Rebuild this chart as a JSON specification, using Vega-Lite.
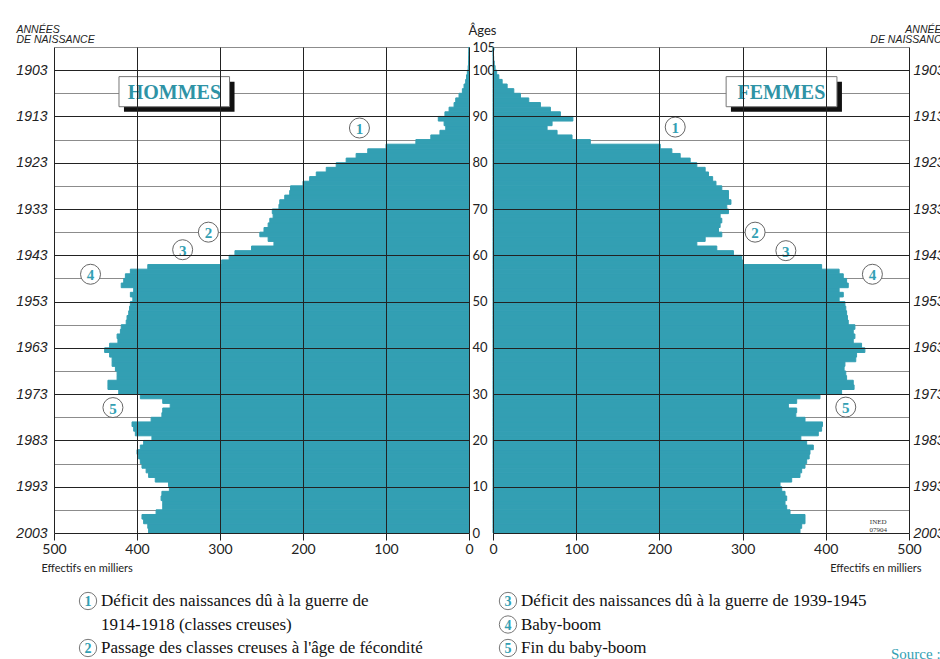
{
  "$schema": "https://vega.github.io/schema/vega-lite/v6.json",
  "background": "white",
  "padding": {"left": 15, "top": 24, "right": 0, "bottom": 0},
  "config": {"view": {"stroke": null}, "font": "Lato"},
  "datasets": {
    "pop": [
      {"age":0,"age2":1,"h":386,"f":369},{"age":1,"age2":2,"h":387,"f":371},{"age":2,"age2":3,"h":392,"f":375},{"age":3,"age2":4,"h":394,"f":375},{"age":4,"age2":5,"h":377,"f":357},
      {"age":5,"age2":6,"h":369,"f":353},{"age":6,"age2":7,"h":369,"f":351},{"age":7,"age2":8,"h":371,"f":353},{"age":8,"age2":9,"h":370,"f":351},{"age":9,"age2":10,"h":361,"f":347},
      {"age":10,"age2":11,"h":362,"f":345},{"age":11,"age2":12,"h":378,"f":359},{"age":12,"age2":13,"h":386,"f":369},{"age":13,"age2":14,"h":389,"f":371},{"age":14,"age2":15,"h":394,"f":375},
      {"age":15,"age2":16,"h":396,"f":377},{"age":16,"age2":17,"h":398,"f":380},{"age":17,"age2":18,"h":400,"f":381},{"age":18,"age2":19,"h":396,"f":385},{"age":19,"age2":20,"h":392,"f":377},
      {"age":20,"age2":21,"h":382,"f":370},{"age":21,"age2":22,"h":402,"f":391},{"age":22,"age2":23,"h":404,"f":395},{"age":23,"age2":24,"h":406,"f":396},{"age":24,"age2":25,"h":383,"f":375},
      {"age":25,"age2":26,"h":370,"f":364},{"age":26,"age2":27,"h":369,"f":365},{"age":27,"age2":28,"h":360,"f":355},{"age":28,"age2":29,"h":369,"f":365},{"age":29,"age2":30,"h":396,"f":393},
      {"age":30,"age2":31,"h":422,"f":419},{"age":31,"age2":32,"h":435,"f":434},{"age":32,"age2":33,"h":435,"f":433},{"age":33,"age2":34,"h":424,"f":425},{"age":34,"age2":35,"h":424,"f":424},
      {"age":35,"age2":36,"h":426,"f":422},{"age":36,"age2":37,"h":430,"f":423},{"age":37,"age2":38,"h":430,"f":436},{"age":38,"age2":39,"h":433,"f":437},{"age":39,"age2":40,"h":439,"f":447},
      {"age":40,"age2":41,"h":433,"f":443},{"age":41,"age2":42,"h":423,"f":433},{"age":42,"age2":43,"h":424,"f":435},{"age":43,"age2":44,"h":420,"f":433},{"age":44,"age2":45,"h":419,"f":435},
      {"age":45,"age2":46,"h":413,"f":427},{"age":46,"age2":47,"h":412,"f":426},{"age":47,"age2":48,"h":410,"f":425},{"age":48,"age2":49,"h":409,"f":424},{"age":49,"age2":50,"h":408,"f":423},
      {"age":50,"age2":51,"h":405,"f":416},{"age":51,"age2":52,"h":408,"f":421},{"age":52,"age2":53,"h":404,"f":416},{"age":53,"age2":54,"h":419,"f":427},{"age":54,"age2":55,"h":416,"f":425},
      {"age":55,"age2":56,"h":414,"f":421},{"age":56,"age2":57,"h":408,"f":416},{"age":57,"age2":58,"h":387,"f":395},{"age":58,"age2":59,"h":298,"f":300},{"age":59,"age2":60,"h":289,"f":299},
      {"age":60,"age2":61,"h":282,"f":289},{"age":61,"age2":62,"h":262,"f":269},{"age":62,"age2":63,"h":235,"f":245},{"age":63,"age2":64,"h":242,"f":255},{"age":64,"age2":65,"h":252,"f":275},
      {"age":65,"age2":66,"h":247,"f":271},{"age":66,"age2":67,"h":242,"f":273},{"age":67,"age2":68,"h":240,"f":275},{"age":68,"age2":69,"h":236,"f":273},{"age":69,"age2":70,"h":237,"f":283},
      {"age":70,"age2":71,"h":229,"f":281},{"age":71,"age2":72,"h":228,"f":286},{"age":72,"age2":73,"h":222,"f":283},{"age":73,"age2":74,"h":216,"f":283},{"age":74,"age2":75,"h":215,"f":275},
      {"age":75,"age2":76,"h":200,"f":268},{"age":76,"age2":77,"h":192,"f":264},{"age":77,"age2":78,"h":184,"f":259},{"age":78,"age2":79,"h":172,"f":255},{"age":79,"age2":80,"h":160,"f":245},
      {"age":80,"age2":81,"h":148,"f":237},{"age":81,"age2":82,"h":136,"f":225},{"age":82,"age2":83,"h":122,"f":215},{"age":83,"age2":84,"h":100,"f":201},{"age":84,"age2":85,"h":64,"f":117},
      {"age":85,"age2":86,"h":46,"f":95},{"age":86,"age2":87,"h":35,"f":77},{"age":87,"age2":88,"h":28,"f":65},{"age":88,"age2":89,"h":30,"f":71},{"age":89,"age2":90,"h":37,"f":96},
      {"age":90,"age2":91,"h":29,"f":81},{"age":91,"age2":92,"h":24,"f":69},{"age":92,"age2":93,"h":18,"f":57},{"age":93,"age2":94,"h":16,"f":43},{"age":94,"age2":95,"h":12,"f":33},
      {"age":95,"age2":96,"h":8,"f":25},{"age":96,"age2":97,"h":6,"f":17},{"age":97,"age2":98,"h":4,"f":11},{"age":98,"age2":99,"h":3,"f":7},{"age":99,"age2":100,"h":2,"f":4.4},
      {"age":100,"age2":101,"h":1,"f":2.5},{"age":101,"age2":102,"h":0.6,"f":1.5},{"age":102,"age2":103,"h":0.4,"f":0.8},{"age":103,"age2":104,"h":0.2,"f":0.4},{"age":104,"age2":105,"h":0.1,"f":0.2}
    ],
    "notesH": [
      {"n":"1","v":132,"age":87.5},{"n":"2","v":314,"age":65.0},{"n":"3","v":345,"age":61.2},{"n":"4","v":456,"age":55.9},{"n":"5","v":429,"age":27.1}
    ],
    "notesF": [
      {"n":"1","v":219,"age":87.7},{"n":"2","v":315,"age":65.0},{"n":"3","v":352,"age":61.0},{"n":"4","v":456,"age":55.9},{"n":"5","v":424,"age":27.2}
    ],
    "legend": [
      {"col":"A","row":0,"n":"1","label":"Déficit des naissances dû à la guerre de"},
      {"col":"A","row":1,"n":"","label":"1914-1918 (classes creuses)"},
      {"col":"A","row":2,"n":"2","label":"Passage des classes creuses à l'âge de fécondité"},
      {"col":"B","row":0,"n":"3","label":"Déficit des naissances dû à la guerre de 1939-1945"},
      {"col":"B","row":1,"n":"4","label":"Baby-boom"},
      {"col":"B","row":2,"n":"5","label":"Fin du baby-boom"}
    ]
  },
  "vconcat": [
    {
      "hconcat": [
        {
          "width": 415,
          "height": 486,
          "resolve": {"axis": {"x": "independent", "y": "independent"}},
          "layer": [
            {
              "data": {"name": "pop"},
              "mark": {"type": "rect", "color": "#339fb3", "stroke": "#339fb3", "strokeWidth": 1},
              "encoding": {
                "x": {"field": "h", "type": "quantitative",
                  "scale": {"domain": [0, 500], "reverse": true, "nice": false, "zero": false},
                  "axis": {"orient": "bottom", "values": [0,100,200,300,400,500], "format": "d", "grid": true, "gridColor": "#222", "gridWidth": 1, "zindex": 1, "domain": false, "tickSize": 7, "tickColor": "#222", "labelFont": "Lato", "labelFontSize": 14, "labelPadding": 2, "labelColor": "#222", "labelFlush": false, "labelOverlap": false,
                    "title": "Effectifs en milliers", "titleX": -13, "titleY": 35, "titleAlign": "left", "titleBaseline": "middle", "titleFont": "Lato", "titleFontSize": 11, "titleFontWeight": "normal", "titleColor": "#222"}},
                "x2": {"datum": 0},
                "y": {"field": "age", "type": "quantitative",
                  "scale": {"domain": [0, 105], "nice": false, "zero": false},
                  "axis": {"orient": "left", "values": [0,10,20,30,40,50,60,70,80,90,100], "labelExpr": "'' + (2003 - datum.value)", "labelFont": "Liberation Sans", "labelFontStyle": "italic", "labelFontSize": 14, "labelColor": "#222", "labelPadding": 7, "ticks": false, "domain": false, "grid": true, "gridColor": "#222", "gridWidth": 1, "zindex": 1, "labelOverlap": false,
                    "title": ["ANNÉES", "DE NAISSANCE"], "titleAngle": 0, "titleX": -38, "titleY": -23, "titleAlign": "left", "titleBaseline": "top", "titleFont": "Liberation Sans", "titleFontStyle": "italic", "titleFontWeight": "normal", "titleFontSize": 10.5, "titleLineHeight": 10.5, "titleColor": "#222"}},
                "y2": {"field": "age2"}
              }
            },
            {
              "data": {"name": "notesH"},
              "mark": {"type": "point", "shape": "circle", "size": 400, "filled": true, "fill": "white", "stroke": "#666", "strokeWidth": 1, "opacity": 1},
              "encoding": {
                "x": {"field": "v", "type": "quantitative", "axis": null},
                "y": {"field": "age", "type": "quantitative",
                  "axis": {"orient": "right", "values": [0,5,10,15,20,25,30,35,40,45,50,55,60,65,70,75,80,85,90,95,100,105], "labelExpr": "datum.value % 10 === 0 || datum.value === 105 ? datum.label : ''", "ticks": false, "domain": false, "labelPadding": 3, "labelFont": "Lato", "labelFontSize": 13, "labelColor": "#222", "labelAlign": "left", "labelOverlap": false, "labelBound": false,
                    "grid": true, "gridColor": {"condition": {"test": "datum.value % 10 === 5", "value": "#8c8c8c"}, "value": "transparent"}, "zindex": 0,
                    "title": "Âges", "titleAngle": 0, "titleX": 13, "titleY": -17, "titleAlign": "center", "titleBaseline": "middle", "titleFont": "Lato", "titleFontSize": 13, "titleFontWeight": "normal", "titleColor": "#222"}}
              }
            },
            {
              "data": {"name": "notesH"},
              "mark": {"type": "text", "font": "Liberation Serif", "fontWeight": "bold", "fontSize": 15, "color": "#339fb3", "align": "center", "baseline": "middle", "dy": 1},
              "encoding": {
                "x": {"field": "v", "type": "quantitative", "axis": null},
                "y": {"field": "age", "type": "quantitative", "axis": null},
                "text": {"field": "n"}
              }
            },
            {
              "data": {"values": [{}]},
              "mark": {"type": "rect", "color": "#111"},
              "encoding": {
                "x": {"datum": 415.7, "type": "quantitative", "axis": null},
                "x2": {"datum": 282.5},
                "y": {"datum": 97.5, "type": "quantitative", "axis": null},
                "y2": {"datum": 91.0}
              }
            },
            {
              "data": {"values": [{}]},
              "mark": {"type": "rect", "fill": "white", "stroke": "#777", "strokeWidth": 1},
              "encoding": {
                "x": {"datum": 421.7, "type": "quantitative", "axis": null},
                "x2": {"datum": 288.5},
                "y": {"datum": 98.6, "type": "quantitative", "axis": null},
                "y2": {"datum": 92.1}
              }
            },
            {
              "data": {"values": [{"t": "HOMMES"}]},
              "mark": {"type": "text", "font": "Liberation Serif", "fontWeight": "bold", "fontSize": 20, "color": "#2f93a6", "align": "center", "baseline": "middle", "dy": 1},
              "encoding": {
                "x": {"datum": 355, "type": "quantitative", "axis": null},
                "y": {"datum": 95.3, "type": "quantitative", "axis": null},
                "text": {"field": "t"}
              }
            }
          ]
        },
        {
          "width": 416,
          "height": 486,
          "resolve": {"axis": {"x": "independent", "y": "independent"}},
          "layer": [
            {
              "data": {"name": "pop"},
              "mark": {"type": "rect", "color": "#339fb3", "stroke": "#339fb3", "strokeWidth": 1},
              "encoding": {
                "x": {"field": "f", "type": "quantitative",
                  "scale": {"domain": [0, 500], "nice": false, "zero": false},
                  "axis": {"orient": "bottom", "values": [0,100,200,300,400,500], "format": "d", "grid": true, "gridColor": "#222", "gridWidth": 1, "zindex": 1, "domain": false, "tickSize": 7, "tickColor": "#222", "labelFont": "Lato", "labelFontSize": 14, "labelPadding": 2, "labelColor": "#222", "labelFlush": false, "labelOverlap": false,
                    "title": "Effectifs en milliers", "titleX": 428, "titleY": 35, "titleAlign": "right", "titleBaseline": "middle", "titleFont": "Lato", "titleFontSize": 11, "titleFontWeight": "normal", "titleColor": "#222"}},
                "x2": {"datum": 0},
                "y": {"field": "age", "type": "quantitative",
                  "scale": {"domain": [0, 105], "nice": false, "zero": false},
                  "axis": {"orient": "right", "values": [0,10,20,30,40,50,60,70,80,90,100], "labelExpr": "'' + (2003 - datum.value)", "labelFont": "Liberation Sans", "labelFontStyle": "italic", "labelFontSize": 14, "labelColor": "#222", "labelPadding": 4, "ticks": false, "domain": false, "grid": true, "gridColor": "#222", "gridWidth": 1, "zindex": 1, "labelOverlap": false,
                    "title": ["ANNÉES", "DE NAISSANCE"], "titleAngle": 0, "titleX": 39, "titleY": -23, "titleAlign": "right", "titleBaseline": "top", "titleFont": "Liberation Sans", "titleFontStyle": "italic", "titleFontWeight": "normal", "titleFontSize": 10.5, "titleLineHeight": 10.5, "titleColor": "#222"}},
                "y2": {"field": "age2"}
              }
            },
            {
              "data": {"name": "notesF"},
              "mark": {"type": "point", "shape": "circle", "size": 400, "filled": true, "fill": "white", "stroke": "#666", "strokeWidth": 1, "opacity": 1},
              "encoding": {
                "x": {"field": "v", "type": "quantitative", "axis": null},
                "y": {"field": "age", "type": "quantitative",
                  "axis": {"orient": "left", "values": [5,15,25,35,45,55,65,75,85,95,105], "labels": false, "ticks": false, "domain": false, "grid": true, "gridColor": "#8c8c8c", "zindex": 0, "title": null}}
              }
            },
            {
              "data": {"name": "notesF"},
              "mark": {"type": "text", "font": "Liberation Serif", "fontWeight": "bold", "fontSize": 15, "color": "#339fb3", "align": "center", "baseline": "middle", "dy": 1},
              "encoding": {
                "x": {"field": "v", "type": "quantitative", "axis": null},
                "y": {"field": "age", "type": "quantitative", "axis": null},
                "text": {"field": "n"}
              }
            },
            {
              "data": {"values": [{}]},
              "mark": {"type": "rect", "color": "#111"},
              "encoding": {
                "x": {"datum": 286, "type": "quantitative", "axis": null},
                "x2": {"datum": 419.4},
                "y": {"datum": 97.5, "type": "quantitative", "axis": null},
                "y2": {"datum": 91.0}
              }
            },
            {
              "data": {"values": [{}]},
              "mark": {"type": "rect", "fill": "white", "stroke": "#777", "strokeWidth": 1},
              "encoding": {
                "x": {"datum": 280.2, "type": "quantitative", "axis": null},
                "x2": {"datum": 413.4},
                "y": {"datum": 98.6, "type": "quantitative", "axis": null},
                "y2": {"datum": 92.1}
              }
            },
            {
              "data": {"values": [{"t": "FEMMES"}]},
              "mark": {"type": "text", "font": "Liberation Serif", "fontWeight": "bold", "fontSize": 20, "color": "#2f93a6", "align": "center", "baseline": "middle", "dy": 1},
              "encoding": {
                "x": {"datum": 346.6, "type": "quantitative", "axis": null},
                "y": {"datum": 95.3, "type": "quantitative", "axis": null},
                "text": {"field": "t"}
              }
            },
            {
              "data": {"values": [{"t": "INED\n07904"}]},
              "mark": {"type": "text", "font": "Liberation Sans Narrow", "fontSize": 7, "color": "#333", "align": "center", "baseline": "middle", "lineBreak": "\n", "lineHeight": 8},
              "encoding": {
                "x": {"datum": 463, "type": "quantitative", "axis": null},
                "y": {"datum": 2.4, "type": "quantitative", "axis": null},
                "text": {"field": "t"}
              }
            }
          ]
        }
      ],
      "spacing": 24,
      "bounds": "flush"
    },
    {
      "width": 488,
      "height": 47,
      "data": {"name": "legend"},
      "title": {"text": "Source :", "orient": "bottom", "anchor": "start", "dx": 837, "offset": -12, "color": "#339fb3", "font": "Liberation Serif", "fontSize": 15, "fontWeight": "normal"},
      "encoding": {
        "x": {"field": "col", "type": "nominal", "scale": {"type": "point", "padding": 0.081}, "axis": null},
        "y": {"field": "row", "type": "ordinal", "scale": {"type": "point", "padding": 0}, "axis": null}
      },
      "layer": [
        {
          "transform": [{"filter": "datum.n !== ''"}],
          "mark": {"type": "point", "shape": "circle", "size": 300, "filled": true, "fill": "white", "stroke": "#777", "strokeWidth": 1, "opacity": 1}
        },
        {
          "transform": [{"filter": "datum.n !== ''"}],
          "mark": {"type": "text", "font": "Liberation Serif", "fontWeight": "bold", "fontSize": 14, "color": "#339fb3", "align": "center", "baseline": "middle", "dy": 1},
          "encoding": {"text": {"field": "n"}}
        },
        {
          "mark": {"type": "text", "font": "Liberation Serif", "fontSize": 17, "color": "#111", "align": "left", "baseline": "middle", "dx": 13},
          "encoding": {"text": {"field": "label"}}
        }
      ]
    }
  ],
  "spacing": 17,
  "bounds": "full"
}
